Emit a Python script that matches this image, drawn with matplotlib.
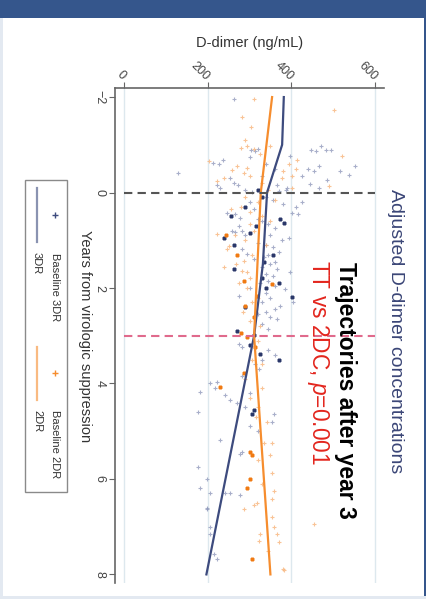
import numpy as np
import matplotlib.pyplot as plt
from matplotlib.patches import Rectangle
from matplotlib.lines import Line2D

plt.rcParams['font.family'] = ['Liberation Sans', 'DejaVu Sans']
plt.rcParams['mathtext.fontset'] = 'custom'
plt.rcParams['mathtext.rm'] = 'Liberation Sans'
plt.rcParams['mathtext.it'] = 'Liberation Sans:italic'

# ---- data (year from suppression, D-dimer ng/mL) ----
year_ticks = [-2, 0, 2, 4, 6, 8]
ddimer_ticks = [0, 200, 400, 600]
ref_years = [0, 3]

dr3_fit_years = [-2, -1, 0, 1.5, 3, 8]
dr3_fit_vals = [382, 378, 342, 332, 311, 197]
dr2_fit_years = [-2, 0, 3, 8]
dr2_fit_vals = [354, 327, 311, 350]

dr3_light = [
    (-1.97, 262), (-0.9, 303), (-0.88, 312), (-0.92, 320), (-0.76, 398), (-0.9, 448),
    (-0.97, 470), (-0.88, 460), (-0.9, 483), (-0.9, 494), (-0.55, 553), (-0.45, 517),
    (-0.37, 537), (-0.55, 465), (-0.5, 441), (-0.45, 453), (-0.27, 485), (-0.17, 445),
    (-0.1, 465), (-0.41, 130), (-0.62, 213), (-0.6, 228), (-0.68, 237), (-0.3, 254),
    (-0.2, 262), (-0.15, 273), (-0.15, 223), (-0.1, 230), (-0.15, 366), (-0.1, 390),
    (-0.05, 290), (-0.02, 305), (-0.03, 370), (-0.05, 388), (-0.35, 425), (-0.6, 340),
    (-0.5, 360), (-0.35, 330), (-0.75, 300),
    (0.1, 340), (0.15, 355), (0.2, 300), (0.25, 380), (0.3, 410), (0.42, 246),
    (0.46, 266), (0.53, 278), (0.7, 274), (0.8, 258), (0.83, 266), (0.8, 283),
    (0.9, 290), (0.42, 402), (0.46, 417), (0.6, 330), (0.65, 345), (0.75, 360),
    (0.9, 350), (1.0, 378), (1.05, 320), (1.1, 340), (1.15, 355), (1.19, 282),
    (1.29, 294), (1.4, 310), (1.3, 345), (1.35, 335), (1.45, 360), (1.5, 350),
    (1.55, 330), (1.6, 365), (1.67, 398), (1.7, 340), (1.75, 355), (1.85, 345),
    (1.9, 325), (1.95, 360), (2.02, 386), (2.1, 340), (2.16, 274), (2.2, 350),
    (2.3, 330), (2.37, 374), (2.44, 362), (2.5, 340), (2.55, 320), (2.61, 350),
    (2.65, 366), (2.75, 330), (2.85, 345), (0.35, 310), (0.55, 320), (1.25, 370),
    (2.0, 300), (0.95, 395), (0.2, 425), (2.3, 405),
    (3.17, 274), (3.24, 282), (3.5, 330), (3.6, 314), (3.7, 322), (3.85, 282),
    (4.0, 206), (3.97, 222), (4.17, 182), (4.1, 218), (4.25, 242), (4.4, 270),
    (4.35, 254), (4.63, 358), (4.8, 354), (4.6, 178), (3.4, 360), (3.3, 345),
    (4.5, 290), (4.9, 300), (5.18, 230), (5.43, 282), (5.48, 278), (5.74, 178),
    (6.0, 198), (6.19, 182), (6.29, 206), (6.29, 242), (6.29, 254), (6.33, 278),
    (6.6, 198), (6.64, 198), (7.16, 206), (7.0, 206), (7.58, 214), (7.68, 222),
    (5.0, 320), (4.2, 300),
]
dr3_dark = [
    (0.56, 374), (0.63, 382), (0.5, 255), (0.95, 240), (0.85, 300), (1.1, 262),
    (1.6, 262), (2.19, 402), (1.78, 330), (1.3, 355), (0.7, 315), (2.0, 340),
    (2.9, 270), (2.99, 310), (3.38, 326), (3.51, 370), (4.56, 310), (4.63, 306),
    (3.2, 300), (2.4, 290), (0.3, 290), (1.9, 370), (0.1, 330), (-0.05, 320),
    (1.45, 335),
]
dr2_light = [
    (-1.97, 310), (-1.73, 501), (-1.58, 282), (-1.38, 303), (-0.94, 280), (-0.97, 295),
    (-0.92, 310), (-0.97, 348), (-0.69, 414), (-0.76, 521), (-0.13, 489), (-0.67, 202),
    (-0.24, 222), (-0.48, 258), (-0.55, 270), (-0.51, 294), (-0.41, 286), (-0.34, 302),
    (-0.3, 378), (-0.45, 381), (-0.35, 402), (-0.1, 402), (-0.6, 395), (-0.5, 410),
    (-0.2, 330), (-0.05, 345), (-0.8, 325), (-1.1, 290), (-0.3, 240),
    (0.875, 222), (1.12, 250), (1.19, 246), (1.43, 286), (1.64, 282), (1.67, 294),
    (1.5, 268), (1.9, 275), (0.3, 280), (0.4, 300), (0.2, 320), (0.5, 330),
    (0.65, 300), (0.8, 310), (1.0, 290), (1.3, 305), (1.8, 300), (2.0, 295),
    (2.3, 305), (2.5, 285), (2.7, 300), (0.15, 360), (0.6, 350), (1.1, 340),
    (2.2, 320), (0.35, 255), (1.55, 240), (0.1, 290), (2.8, 325), (0.9, 265),
    (3.1, 320), (3.5, 305), (3.9, 289), (4.3, 300), (4.5, 320), (4.8, 342),
    (4.7, 315), (5.25, 334), (5.25, 354), (5.5, 350), (5.88, 354), (6.26, 358),
    (6.43, 354), (6.5, 318), (6.55, 310), (6.64, 286), (6.8, 354), (7.0, 358),
    (7.16, 326), (7.3, 322), (7.16, 366), (7.33, 370), (6.95, 453), (7.91, 382),
    (7.89, 380), (5.6, 320), (6.1, 330), (4.1, 330), (3.6, 330), (7.5, 345),
]
dr2_dark = [
    (1.85, 286), (2.37, 290), (2.16, 318), (1.92, 354), (3.03, 294), (3.23, 314),
    (3.79, 286), (4.07, 230), (5.43, 302), (5.5, 306), (6.0, 302), (6.19, 294),
    (7.68, 306), (1.3, 270), (0.9, 245), (2.6, 310), (2.95, 280),
]

navy = '#3d4b7e'
navy_dark = '#2a3769'
navy_light = '#8c95b9'
orange = '#f68d2e'
orange_dark = '#f07a12'
orange_light = '#f8b57c'

W, H = 427, 599
fig = plt.figure(figsize=(W / 100, H / 100), dpi=100)
fig.patch.set_facecolor('white')


def fx(px):
    return px / W


def fy(py):
    return 1 - py / H


# slide decoration
fig.add_artist(Rectangle((0, fy(18)), 1, 18 / H, transform=fig.transFigure,
                         color='#35568c', lw=0, zorder=0))
fig.add_artist(Rectangle((fx(424), 0), 3 / W, 1, transform=fig.transFigure,
                         color='#35568c', lw=0, zorder=0))
fig.add_artist(Rectangle((0, 0), 1, 3 / H, transform=fig.transFigure,
                         color='#e3e9f1', lw=0, zorder=0))
fig.add_artist(Rectangle((0, 0), 3 / W, fy(18), transform=fig.transFigure,
                         color='#e3e9f1', lw=0, zorder=0))

ax = fig.add_axes([fx(115), fy(583), fx(384) - fx(115), fy(88) - fy(583)])
ax.set_xlim(-21.5, 621.5)
ax.set_ylim(8.18, -2.19)
ax.set_facecolor('none')

for s in ['right', 'bottom']:
    ax.spines[s].set_visible(False)
for s in ['top', 'left']:
    ax.spines[s].set_color('#666666')
    ax.spines[s].set_linewidth(1.2)

ax.set_xticks(ddimer_ticks)
ax.set_yticks(year_ticks)
ax.tick_params(axis='x', top=True, labeltop=True, bottom=False, labelbottom=False,
               length=4, color='#666666', labelsize=9, labelcolor='#444444', pad=3)
ax.tick_params(axis='y', length=4, color='#666666', labelsize=9, labelcolor='#444444', pad=3)
for lab in ax.get_xticklabels():
    lab.set_rotation(-45)
    lab.set_ha('right')
    lab.set_va('center')
    lab.set_rotation_mode('anchor')
for lab in ax.get_yticklabels():
    lab.set_rotation(270)
    lab.set_va('center')

for v in ddimer_ticks:
    ax.axvline(v, color='#dde8ee', lw=1, zorder=0)

# scatter
yl, vl = zip(*dr3_light)
ax.plot(vl, yl, '+', color=navy_light, ms=3, mew=0.8, alpha=0.75, zorder=1)
yl, vl = zip(*dr2_light)
ax.plot(vl, yl, '+', color=orange_light, ms=3, mew=0.8, alpha=0.8, zorder=1)
yd, vd = zip(*dr3_dark)
ax.plot(vd, yd, '+', color=navy_dark, ms=3.5, mew=2, zorder=2)
yd, vd = zip(*dr2_dark)
ax.plot(vd, yd, '+', color=orange_dark, ms=3.5, mew=2, zorder=2)

# fitted trajectories
ax.plot(dr3_fit_vals, dr3_fit_years, color=navy, lw=1.6, zorder=3)
ax.plot(dr2_fit_vals, dr2_fit_years, color=orange, lw=1.6, zorder=3)

ax.hlines(ref_years[0], 0, 600, colors='#555555', lw=1.5, linestyles=(0, (4, 2.5)), zorder=4)
ax.hlines(ref_years[1], 0, 600, colors='#e06a8c', lw=1.5, linestyles=(0, (4, 2.5)), zorder=4)

# labels
fig.text(fx(250), fy(43), 'D-dimer (ng/mL)', ha='center', va='center',
         fontsize=10.5, color='#333333')
fig.text(fx(85), fy(336), 'Years from virologic suppression', ha='center', va='center',
         rotation=270, fontsize=10.5, color='#333333')
fig.text(fx(396), fy(331), 'Adjusted D-dimer concentrations', ha='center', va='center',
         rotation=270, fontsize=14, color='#3b4677')
fig.text(fx(346), fy(262), 'Trajectories after year 3', ha='center', va='top',
         rotation=270, fontsize=16.5, fontweight='bold', color='black')
fig.text(fx(318), fy(260), 'TT vs 2DC, $p$=0.001', ha='center', va='top',
         rotation=270, fontsize=16.4, color='#e3261e')

# legend box (rotated along with the slide)
fig.add_artist(Rectangle((fx(25), fy(492)), fx(67) - fx(25), fy(180) - fy(492),
                         transform=fig.transFigure, fill=False, ec='#8a8a8a', lw=1))
fig.add_artist(Line2D([fx(55)], [fy(215)], transform=fig.transFigure, marker='+',
                      color=navy, ms=4, mew=1))
fig.add_artist(Line2D([fx(37), fx(37)], [fy(188), fy(242)], transform=fig.transFigure,
                      color=navy, lw=1.6, alpha=0.6))
fig.add_artist(Line2D([fx(55)], [fy(373)], transform=fig.transFigure, marker='+',
                      color=orange, ms=4, mew=1))
fig.add_artist(Line2D([fx(37), fx(37)], [fy(347), fy(400)], transform=fig.transFigure,
                      color=orange, lw=1.6, alpha=0.6))
fig.text(fx(55), fy(253), 'Baseline 3DR', rotation=270, ha='center', va='top',
         fontsize=8, color='#333333')
fig.text(fx(37), fy(252), '3DR', rotation=270, ha='center', va='top',
         fontsize=8, color='#333333')
fig.text(fx(55), fy(410), 'Baseline 2DR', rotation=270, ha='center', va='top',
         fontsize=8, color='#333333')
fig.text(fx(37), fy(410), '2DR', rotation=270, ha='center', va='top',
         fontsize=8, color='#333333')

fig.savefig('out.png', dpi=100)
